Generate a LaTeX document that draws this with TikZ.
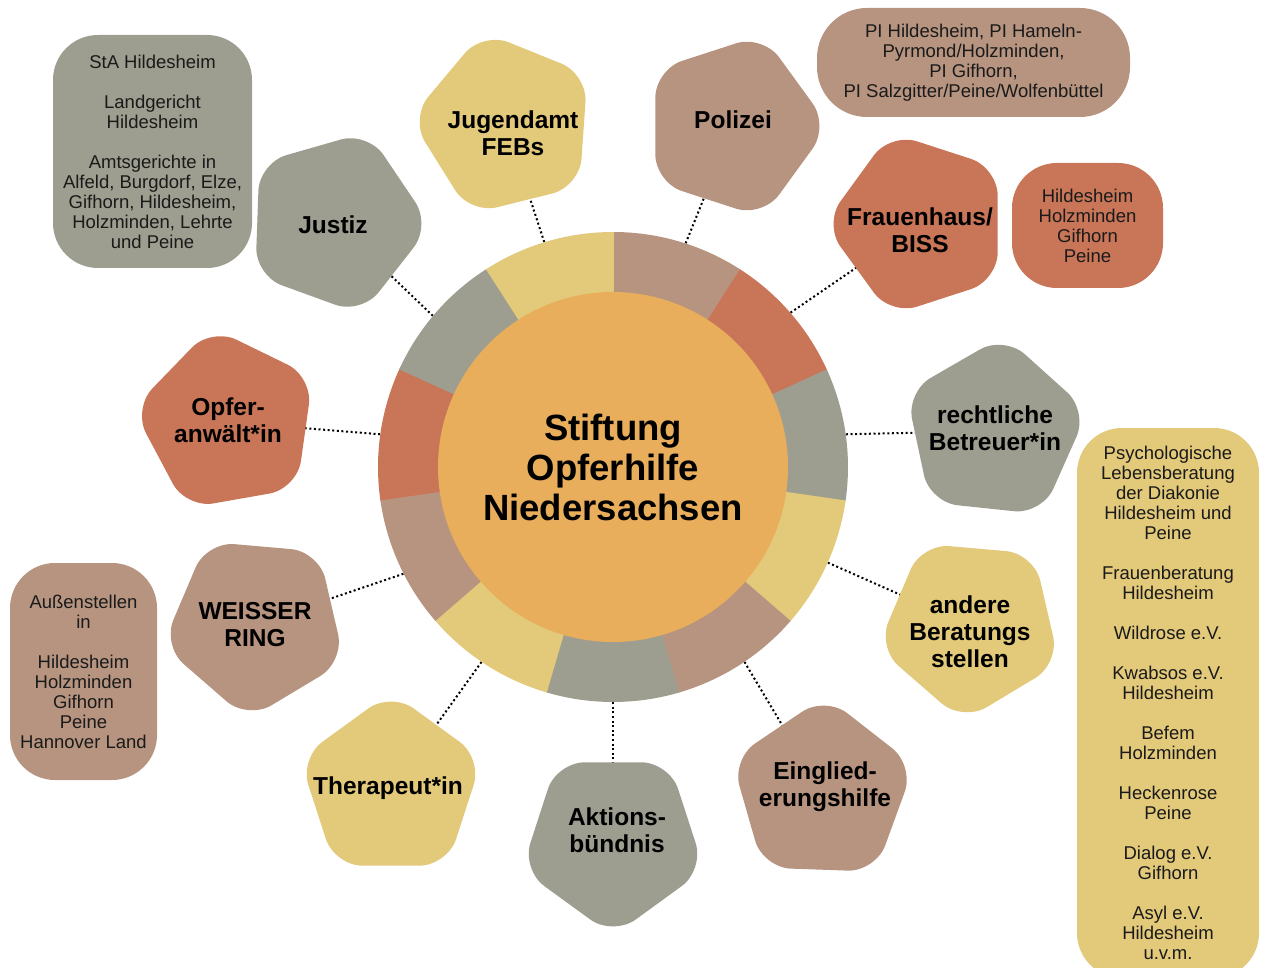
\documentclass[tikz,border=0pt]{standalone}
\usepackage{fontspec}
\setmainfont{Liberation Sans}
\definecolor{cTaupe}{HTML}{B79480}
\definecolor{cRed}{HTML}{C87558}
\definecolor{cGray}{HTML}{9D9E8F}
\definecolor{cYellow}{HTML}{E3C97A}
\definecolor{cOrange}{HTML}{E8AE5C}
\definecolor{cText}{HTML}{1A1A1A}
% #1 centre coordinate name, #2 rotation (image angle of one vertex), #3 colour
\newcommand{\roundpenta}[3]{%
  \fill[#3,rounded corners=28pt,shift={(#1)}]
    (#2:96) -- (#2+72:96) -- (#2+144:96) -- (#2+216:96) -- (#2+288:96) -- cycle;}
\begin{document}
\begin{tikzpicture}[x=1pt,y=-1pt,
  conn/.style={line width=2pt, dash pattern=on 2pt off 2.6pt, black},
  lbl/.style={font=\bfseries\fontsize{24.5}{27}\selectfont, align=center, text=black, inner sep=0pt},
  info/.style={font=\fontsize{18.5}{20}\selectfont, align=center, text=cText, inner sep=0pt, rounded corners=45pt}]
\clip (0,0) rectangle (1261,968);
\fill[white] (0,0) rectangle (1261,968);

% centre ring reference
\node[circle, inner sep=0pt, minimum size=470pt] (ring) at (613,467) {};

% pentagon centres
\coordinate (jug) at (506,125);
\coordinate (pol) at (733,126);
\coordinate (frau) at (920,224);
\coordinate (recht) at (994,431);
\coordinate (andere) at (971,626);
\coordinate (eing) at (822,792);
\coordinate (akt) at (613,840);
\coordinate (ther) at (391,788);
\coordinate (weiss) at (256,624);
\coordinate (opfer) at (228,422);
\coordinate (justiz) at (335,222);

% connectors (from the ring's border to each pentagon)
\foreach \a/\p in {107.8/jug,72.9/pol,41.2/frau,8.3/recht,-24.3/andere,-56.3/eing,-90/akt,-124.9/ther,-153.5/weiss,172.7/opfer,140.8/justiz}
  \draw[conn] (ring.\a) -- (\p);

% ring segments
\foreach \c [count=\i from 0] in {cTaupe,cRed,cGray,cYellow,cTaupe,cGray,cYellow,cTaupe,cRed,cGray,cYellow}
  \fill[\c] (ring.center) -- ++({-90+32.72727*\i}:235)
    arc[start angle={-90+32.72727*\i}, end angle={-90+32.72727*(\i+1)+0.25}, radius=235] -- cycle;
\fill[cOrange] (ring.center) circle[radius=175];
\node[font=\bfseries\fontsize{36.5}{40}\selectfont, align=center, inner sep=0pt] (centre) at (ring.center)
  {Stiftung\\Opferhilfe\\Niedersachsen};

% pentagons
\roundpenta{jug}{-104}{cYellow}
\roundpenta{pol}{-72}{cTaupe}
\roundpenta{frau}{180}{cRed}
\roundpenta{recht}{-84}{cGray}
\roundpenta{andere}{95}{cYellow}
\roundpenta{eing}{-88}{cTaupe}
\roundpenta{akt}{90}{cGray}
\roundpenta{ther}{-90}{cYellow}
\roundpenta{weiss}{95}{cTaupe}
\roundpenta{opfer}{-100}{cRed}
\roundpenta{justiz}{74}{cGray}

% labels
\node[lbl] (ljug) at (513,133) {Jugendamt\\FEBs};
\node[lbl] (lpol) at (733,120) {Polizei};
\node[lbl] (lfrau) at (920,230) {Frauenhaus/\\BISS};
\node[lbl] (lrecht) at (995,428) {rechtliche\\Betreuer*in};
\node[lbl] (landere) at (970,632) {andere\\Beratungs\\stellen};
\node[lbl] (leing) at (825,787) {Einglied-\\erungshilfe};
\node[lbl] (lakt) at (617,830) {Aktions-\\bündnis};
\node[lbl] (lther) at (388,788) {Therapeut*in};
\node[lbl] (lweiss) at (255,625) {WEISSER\\RING};
\node[lbl] (lopfer) at (228,420) {Opfer-\\anwält*in};
\node[lbl] (ljustiz) at (333,225) {Justiz};

% info boxes
\node[info, fill=cGray, minimum width=199pt, minimum height=233pt] (ijustiz) at (152.5,151.5)
  {StA Hildesheim\\[20pt]Landgericht\\Hildesheim\\[20pt]Amtsgerichte in\\Alfeld, Burgdorf, Elze,\\Gifhorn, Hildesheim,\\Holzminden, Lehrte\\und Peine};
\node[info, fill=cTaupe, minimum width=313pt, minimum height=109pt, rounded corners=50pt] (ipol) at (973.5,62.5)
  {PI Hildesheim, PI Hameln-\\Pyrmond/Holzminden,\\PI Gifhorn,\\PI Salzgitter/Peine/Wolfenbüttel};
\node[info, fill=cRed, minimum width=151pt, minimum height=125pt] (ifrau) at (1087.5,225.5)
  {Hildesheim\\Holzminden\\Gifhorn\\Peine};
\node[info, fill=cTaupe, minimum width=147pt, minimum height=217pt] (iweiss) at (83.5,671.5)
  {Außenstellen\\in\\[20pt]Hildesheim\\Holzminden\\Gifhorn\\Peine\\Hannover Land};
\node[info, fill=cYellow, minimum width=182pt, minimum height=550pt] (iandere) at (1168,703)
  {Psychologische\\Lebensberatung\\der Diakonie\\Hildesheim und\\Peine\\[20pt]Frauenberatung\\Hildesheim\\[20pt]Wildrose e.V.\\[20pt]Kwabsos e.V.\\Hildesheim\\[20pt]Befem\\Holzminden\\[20pt]Heckenrose\\Peine\\[20pt]Dialog e.V.\\Gifhorn\\[20pt]Asyl e.V.\\Hildesheim\\u.v.m.};
\end{tikzpicture}
\end{document}
